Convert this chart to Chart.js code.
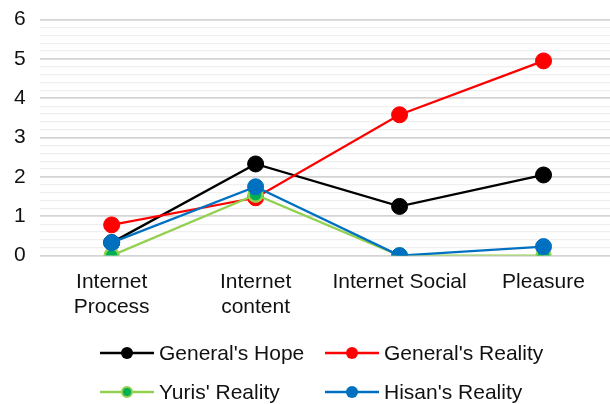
<!DOCTYPE html>
<html>
<head>
<meta charset="utf-8">
<script src="https://cdn.jsdelivr.net/npm/chart.js@4"></script>
<style>
  body { margin: 0; background: #fff; }
  #wrap { position: relative; width: 610px; height: 404px; overflow: hidden; }
  #chart { position: absolute; left: 0; top: -7px; }
  #legend { position: absolute; left: 0; top: 0; width: 610px; height: 404px; pointer-events: none;
            font-family: "Liberation Sans", Arial, sans-serif; font-size: 21px; color: #111; }
  .item { position: absolute; display: flex; align-items: center; height: 24px; white-space: nowrap; }
  .item canvas { margin-right: 5px; }
</style>
</head>
<body>
<div id="wrap">
  <canvas id="chart" width="625" height="411"></canvas>
  <div id="legend"></div>
</div>
<script>
const categories = [["Internet", "Process"], ["Internet", "content"], "Internet Social", "Pleasure"];
const seriesNames = ["General's Hope", "General's Reality", "Yuris' Reality", "Hisan's Reality"];
const generalsHope = [0.33, 2.33, 1.25, 2.05];
const generalsReality = [0.78, 1.47, 3.58, 4.95];
const yurisReality = [0, 1.55, 0, 0];
const hisansReality = [0.33, 1.75, 0, 0.23];

const lineColors = ["#000000", "#FF0000", "#92D050", "#0070C0"];
const dotColors = ["#000000", "#FF0000", "#00B050", "#0070C0"];
const values = [generalsHope, generalsReality, yurisReality, hisansReality];

const datasets = values.map((v, i) => ({
  label: seriesNames[i],
  data: v,
  borderColor: lineColors[i],
  backgroundColor: dotColors[i],
  pointBackgroundColor: dotColors[i],
  pointBorderColor: lineColors[i],
  pointBorderWidth: i === 2 ? 2.5 : 1,
  pointRadius: i === 2 ? 7 : 8,
  borderWidth: 2.3,
  tension: 0,
  order: 4 - i
}));

Chart.defaults.font.family = '"Liberation Sans", Arial, sans-serif';
Chart.defaults.color = '#111';

new Chart(document.getElementById("chart"), {
  type: 'line',
  data: { labels: categories, datasets: datasets },
  options: {
    responsive: false,
    animation: false,
    layout: { padding: { left: 0, right: 0, top: 0, bottom: 70 } },
    plugins: { legend: { display: false }, tooltip: { enabled: false } },
    scales: {
      x: {
        offset: true,
        grid: { display: false, drawTicks: false },
        border: { display: false },
        ticks: { font: { size: 21 }, padding: 14, maxRotation: 0, autoSkip: false }
      },
      y: {
        min: 0,
        max: 6,
        border: { display: false },
        grid: {
          drawTicks: false,
          color: (ctx) => Math.abs(ctx.tick.value - Math.round(ctx.tick.value)) < 1e-6 ? '#D4D4D4' : '#EFEFEF',
          lineWidth: (ctx) => Math.abs(ctx.tick.value - Math.round(ctx.tick.value)) < 1e-6 ? 1.8 : 1.2
        },
        ticks: {
          stepSize: 0.2,
          autoSkip: false,
          padding: 14,
          font: { size: 21 },
          callback: (v) => Math.abs(v - Math.round(v)) < 1e-6 ? Math.round(v) : ''
        }
      }
    }
  }
});

// legend: two rows, two columns, line-with-dot markers
const legend = document.getElementById("legend");
const legendPos = [[100, 341], [325, 341], [100, 380], [325, 380]];
seriesNames.forEach((name, i) => {
  const item = document.createElement("div");
  item.className = "item";
  item.style.left = legendPos[i][0] + "px";
  item.style.top = legendPos[i][1] + "px";
  const c = document.createElement("canvas");
  c.width = 54; c.height = 20;
  const g = c.getContext("2d");
  g.strokeStyle = lineColors[i];
  g.lineWidth = 2.5;
  g.beginPath(); g.moveTo(0, 10); g.lineTo(54, 10); g.stroke();
  g.beginPath(); g.arc(27, 10, i === 2 ? 5 : 6, 0, Math.PI * 2);
  g.fillStyle = dotColors[i]; g.fill();
  if (i === 2) { g.lineWidth = 2; g.strokeStyle = lineColors[i]; g.stroke(); }
  item.appendChild(c);
  const t = document.createElement("span");
  t.textContent = name;
  item.appendChild(t);
  legend.appendChild(item);
});
</script>
</body>
</html>
